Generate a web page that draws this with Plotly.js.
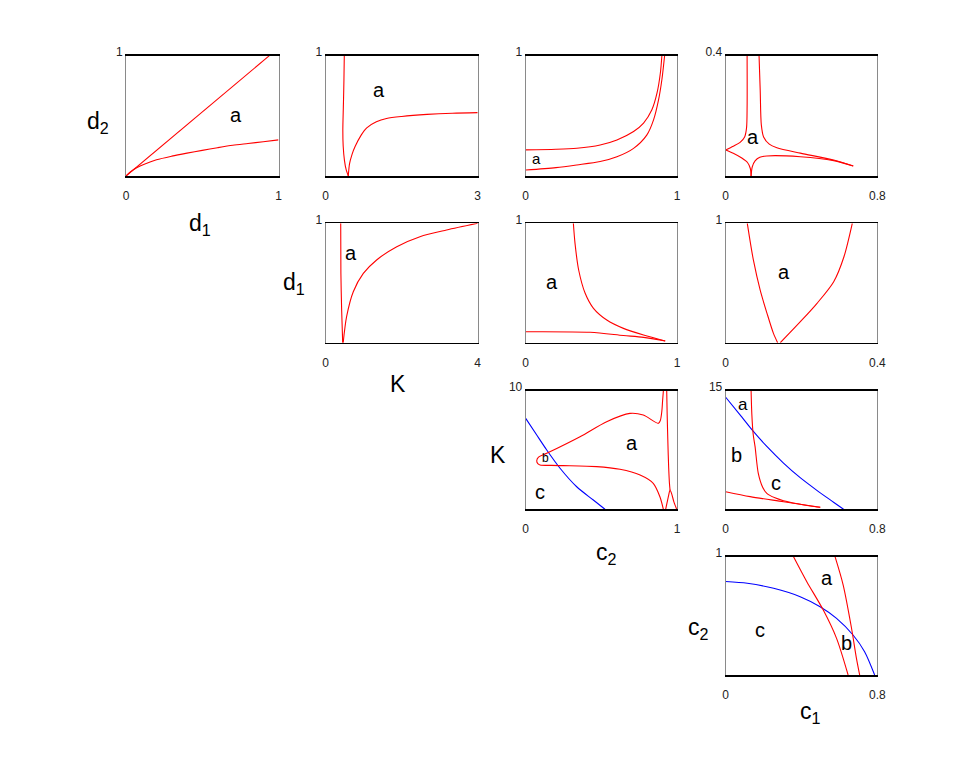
<!DOCTYPE html>
<html>
<head>
<meta charset="utf-8">
<script src="https://cdn.plot.ly/plotly-3.0.1.min.js"></script>
<style>
  html, body { margin: 0; padding: 0; background: #fff; }
  #chart { width: 969px; height: 761px; }
</style>
</head>
<body>
<div id="chart"></div>
<script>
// -------------------- DATA --------------------
// panel 1: d1 vs d2
const p1LineX = [0, 0.5, 0.94];
const p1LineY = [0, 0.53, 1];
const p1CurveX = [0, 0.03, 0.07, 0.12, 0.2, 0.3, 0.4, 0.5, 0.6, 0.7, 0.8, 0.9, 1];
const p1CurveY = [0, 0.035, 0.068, 0.098, 0.135, 0.165, 0.19, 0.213, 0.235, 0.255, 0.27, 0.285, 0.30];

// panel 2: K vs d2
const p2LeftX = [0.367, 0.36, 0.35, 0.338, 0.345, 0.37, 0.405, 0.446];
const p2LeftY = [1, 0.8, 0.6, 0.38, 0.25, 0.13, 0.05, 0];
const p2RightX = [0.446, 0.47, 0.52, 0.58, 0.7, 0.81, 1.0, 1.2, 1.5, 2.0, 2.5, 3.0];
const p2RightY = [0, 0.1, 0.18, 0.245, 0.34, 0.4, 0.45, 0.478, 0.495, 0.512, 0.522, 0.527];

// panel 3: c2 vs d2
const p3UpperX = [0, 0.2, 0.338, 0.492, 0.603, 0.713, 0.779, 0.834, 0.868, 0.89, 0.90];
const p3UpperY = [0.217, 0.222, 0.231, 0.258, 0.30, 0.37, 0.44, 0.55, 0.69, 0.856, 1];
const p3LowerX = [0, 0.2, 0.338, 0.492, 0.603, 0.713, 0.80, 0.845, 0.878, 0.90, 0.918];
const p3LowerY = [0.05, 0.07, 0.092, 0.12, 0.16, 0.23, 0.34, 0.467, 0.633, 0.80, 1];

// panel 4: c1 vs d2
const p4LeftUpX = [0.113, 0.113, 0.11, 0.1, 0.076, 0.04, 0];
const p4LeftUpY = [0.4, 0.23, 0.16, 0.13, 0.112, 0.099, 0.0867];
const p4LeftLowX = [0, 0.04, 0.085, 0.115, 0.13, 0.134];
const p4LeftLowY = [0.0867, 0.076, 0.06, 0.045, 0.025, 0];
const p4RightLowX = [0.134, 0.14, 0.155, 0.18, 0.217, 0.394, 0.57, 0.673];
const p4RightLowY = [0, 0.03, 0.05, 0.062, 0.0667, 0.064, 0.051, 0.033];
const p4RightUpX = [0.176, 0.182, 0.188, 0.2, 0.23, 0.27, 0.394, 0.57, 0.673];
const p4RightUpY = [0.4, 0.287, 0.17, 0.13, 0.106, 0.094, 0.076, 0.053, 0.033];

// panel 5: K vs d1
const p5LeftX = [0.395, 0.40, 0.42, 0.447];
const p5LeftY = [1, 0.58, 0.27, 0];
const p5RightX = [0.46, 0.55, 0.726, 0.99, 1.34, 1.87, 2.48, 3.18, 4.0];
const p5RightY = [0, 0.218, 0.427, 0.58, 0.693, 0.804, 0.888, 0.944, 1.0];

// panel 6: c2 vs d1
const p6UpperX = [0.315, 0.326, 0.35, 0.393, 0.448, 0.536, 0.646, 0.779, 0.922];
const p6UpperY = [1, 0.832, 0.609, 0.414, 0.288, 0.19, 0.12, 0.064, 0.014];
const p6LowerX = [0, 0.426, 0.646, 0.779, 0.922];
const p6LowerY = [0.092, 0.087, 0.06, 0.045, 0.014];

// panel 7: c1 vs d1
const p7LeftX = [0.057, 0.0625, 0.073, 0.091, 0.109, 0.126, 0.137];
const p7LeftY = [1, 0.888, 0.693, 0.44, 0.246, 0.078, 0];
const p7RightX = [0.144, 0.197, 0.241, 0.285, 0.312, 0.334];
const p7RightY = [0, 0.176, 0.33, 0.511, 0.72, 1];

// panel 8: c2 vs K
const p8BlueX = [0, 0.073, 0.139, 0.227, 0.337, 0.447, 0.524];
const p8BlueY = [7.67, 6.26, 5.0, 3.46, 1.9, 0.78, 0];
const p8LoopX = [0.91, 0.905, 0.90, 0.89, 0.877, 0.777, 0.689, 0.535, 0.359, 0.139, 0.085, 0.073, 0.08, 0.095, 0.17, 0.249, 0.469, 0.623, 0.756, 0.843, 0.887, 0.91];
const p8LoopY = [10, 9.2, 8.3, 7.5, 7.25, 7.95, 8.09, 7.39, 6.12, 4.72, 4.4, 4.1, 3.85, 3.74, 3.7, 3.68, 3.6, 3.37, 2.89, 2.19, 1.06, 0];
const p8SpikeX = [0.932, 0.935, 0.94, 0.945, 0.95, 0.954];
const p8SpikeY = [10, 8, 5.5, 3.5, 2.2, 1.63];
const p8BumpX = [0.925, 0.935, 0.945, 0.954, 0.965, 0.98, 0.998];
const p8BumpY = [0, 0.6, 1.2, 1.63, 1.3, 0.6, 0];

// panel 9: c1 vs K
const p9BlueX = [0, 0.0757, 0.146, 0.217, 0.305, 0.393, 0.481, 0.569, 0.622];
const p9BlueY = [14.17, 11.95, 9.85, 7.95, 5.85, 4.0, 2.4, 0.9, 0];
const p9SteepX = [0.134, 0.138, 0.145, 0.155, 0.172, 0.195, 0.217, 0.26, 0.305, 0.38, 0.446, 0.499];
const p9SteepY = [15, 12, 9.5, 7.92, 4.55, 2.8, 2.02, 1.45, 1.09, 0.7, 0.42, 0.25];
const p9LowX = [0, 0.129, 0.305, 0.499];
const p9LowY = [2.23, 1.6, 0.96, 0.25];

// panel 10: c1 vs c2
const p10BlueX = [0, 0.114, 0.253, 0.393, 0.498, 0.585, 0.672, 0.733, 0.786];
const p10BlueY = [0.79, 0.775, 0.733, 0.662, 0.577, 0.479, 0.338, 0.197, 0];
const p10Red1X = [0.358, 0.428, 0.515, 0.585, 0.646];
const p10Red1Y = [1, 0.789, 0.549, 0.31, 0];
const p10Red2X = [0.577, 0.62, 0.664, 0.69, 0.707];
const p10Red2Y = [1, 0.76, 0.395, 0.141, 0];

// axis extents and tick text, one entry per panel
const xMax = [1, 3, 1, 0.8, 4, 1, 0.4, 1, 0.8, 0.8];
const yMax = [1, 1, 1, 0.4, 1, 1, 1, 10, 15, 1];
const xMaxText = ["1", "3", "1", "0.8", "4", "1", "0.4", "1", "0.8", "0.8"];
const yMaxText = ["1", "1", "1", "0.4", "1", "1", "1", "10", "15", "1"];

// region letters: [panel, text, x, y, size]
const regionLabels = [
    [1, "a", 0.72, 0.51, 20],
    [2, "a", 1.06, 0.717, 20],
    [3, "a", 0.073, 0.147, 15],
    [4, "a", 0.146, 0.131, 20],
    [5, "a", 0.666, 0.75, 20],
    [6, "a", 0.172, 0.51, 20],
    [7, "a", 0.153, 0.595, 20],
    [8, "a", 0.70, 5.56, 20],
    [8, "b", 0.132, 4.3, 12],
    [8, "c", 0.095, 1.48, 20],
    [9, "a", 0.093, 13.3, 17],
    [9, "b", 0.058, 6.87, 20],
    [9, "c", 0.266, 3.29, 20],
    [10, "a", 0.533, 0.817, 20],
    [10, "b", 0.638, 0.268, 20],
    [10, "c", 0.183, 0.38, 20]
];

// -------------------- LAYOUT --------------------
const W = 969, H = 761;
const FONT = '"Liberation Sans Narrow", "Liberation Sans", Arial, sans-serif';
const RED = "#ff0000", BLUE = "#0000ff";

// pixel boxes of the grid
const COLS = [[126, 278.5], [325.7, 477.7], [525.7, 677], [725.7, 877.3]];
const ROWS = [[55.7, 176], [223.3, 342.7], [390.7, 509.3], [556.7, 675]];
const panelPos = [[0, 0], [0, 1], [0, 2], [0, 3], [1, 1], [1, 2], [1, 3], [2, 2], [2, 3], [3, 3]];

// axis titles placed in pixels: [html, x, y]
const axisTitles = [
    ["d<sub>2</sub>", 98, 122],
    ["d<sub>1</sub>", 200, 224],
    ["d<sub>1</sub>", 294, 283],
    ["K", 398, 384],
    ["K", 498, 455],
    ["c<sub>2</sub>", 606, 553],
    ["c<sub>2</sub>", 698, 628],
    ["c<sub>1</sub>", 810, 712]
];

function line(panel, x, y, color, smooth) {
    const s = panel === 1 ? "" : String(panel);
    return {
        x: x, y: y, xaxis: "x" + s, yaxis: "y" + s,
        type: "scatter", mode: "lines",
        line: { color: color, width: 1.1, shape: smooth ? "spline" : "linear", smoothing: 0.8 },
        hoverinfo: "skip", showlegend: false
    };
}

const traces = [
    line(1, p1LineX, p1LineY, RED, false),
    line(1, p1CurveX, p1CurveY, RED, true),
    line(2, p2LeftX, p2LeftY, RED, true),
    line(2, p2RightX, p2RightY, RED, true),
    line(3, p3UpperX, p3UpperY, RED, true),
    line(3, p3LowerX, p3LowerY, RED, true),
    line(4, p4LeftUpX, p4LeftUpY, RED, true),
    line(4, p4LeftLowX, p4LeftLowY, RED, true),
    line(4, p4RightLowX, p4RightLowY, RED, true),
    line(4, p4RightUpX, p4RightUpY, RED, true),
    line(5, p5LeftX, p5LeftY, RED, true),
    line(5, p5RightX, p5RightY, RED, true),
    line(6, p6UpperX, p6UpperY, RED, true),
    line(6, p6LowerX, p6LowerY, RED, true),
    line(7, p7LeftX, p7LeftY, RED, true),
    line(7, p7RightX, p7RightY, RED, true),
    line(8, p8BlueX, p8BlueY, BLUE, true),
    line(8, p8LoopX, p8LoopY, RED, true),
    line(8, p8SpikeX, p8SpikeY, RED, true),
    line(8, p8BumpX, p8BumpY, RED, true),
    line(9, p9BlueX, p9BlueY, BLUE, true),
    line(9, p9SteepX, p9SteepY, RED, true),
    line(9, p9LowX, p9LowY, RED, true),
    line(10, p10BlueX, p10BlueY, BLUE, true),
    line(10, p10Red1X, p10Red1Y, RED, true),
    line(10, p10Red2X, p10Red2Y, RED, true)
];

const layout = {
    width: W, height: H,
    margin: { l: 0, r: 0, t: 0, b: 0 },
    paper_bgcolor: "#fff", plot_bgcolor: "#fff",
    font: { family: FONT, color: "#000" },
    annotations: []
};

panelPos.forEach((rc, i) => {
    const s = i === 0 ? "" : String(i + 1);
    const col = COLS[rc[1]], row = ROWS[rc[0]];
    layout["xaxis" + s] = {
        domain: [col[0] / W, col[1] / W],
        anchor: "y" + s,
        range: [0, xMax[i]],
        showgrid: false, zeroline: false,
        showline: true, mirror: true, linecolor: "#000", linewidth: 1.6,
        ticks: "outside", ticklen: 8, tickcolor: "rgba(0,0,0,0)",
        tickvals: [0, xMax[i]], ticktext: ["0", xMaxText[i]],
        tickfont: { family: FONT, size: 12, color: "#222" },
        fixedrange: true
    };
    layout["yaxis" + s] = {
        domain: [1 - row[1] / H, 1 - row[0] / H],
        anchor: "x" + s,
        range: [0, yMax[i]],
        showgrid: false, zeroline: false,
        showline: true, mirror: true, linecolor: "#8a8a8a", linewidth: 1,
        ticks: "", ticklabelshift: -4,
        tickvals: [yMax[i]], ticktext: [yMaxText[i]],
        tickfont: { family: FONT, size: 12, color: "#222" },
        fixedrange: true
    };
});

regionLabels.forEach(r => {
    const s = r[0] === 1 ? "" : String(r[0]);
    layout.annotations.push({
        text: r[1], x: r[2], y: r[3], xref: "x" + s, yref: "y" + s,
        showarrow: false, font: { family: FONT, size: r[4], color: "#000" }
    });
});

axisTitles.forEach(t => {
    layout.annotations.push({
        text: t[0], x: t[1] / W, y: 1 - t[2] / H, xref: "paper", yref: "paper",
        xanchor: "center", yanchor: "middle",
        showarrow: false, font: { family: FONT, size: 23, color: "#000" }
    });
});

Plotly.newPlot("chart", traces, layout, { displayModeBar: false, staticPlot: true });
</script>
</body>
</html>
